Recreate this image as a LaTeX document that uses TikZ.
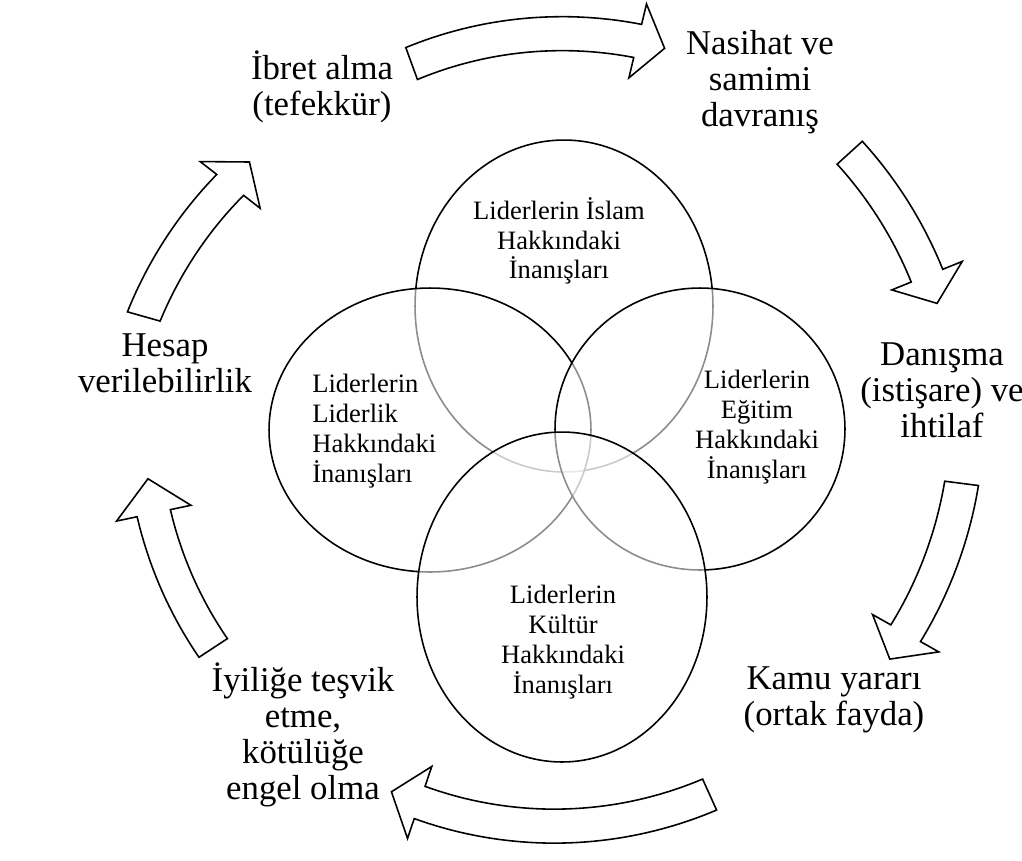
\documentclass[tikz,border=0pt]{standalone}
\usepackage{fontspec}
\setmainfont{Liberation Serif}
\usetikzlibrary{shapes.geometric}

% curved block arrow round (545,430): r1 r2 tail neck tip
\newcommand{\cycarrow}[5]{%
  \draw[cyc arrow] plot[domain=#3:#4,samples=40]
      ({545+(#1+(#2-#1)*(\x-(#3))/((#4)-(#3))+17)*cos(\x)},{430+(#1+(#2-#1)*(\x-(#3))/((#4)-(#3))+17)*sin(\x)})
    -- ({545+(#2+38)*cos(#4)},{430+(#2+38)*sin(#4)})
    -- ({545+(#2)*cos(#5)},{430+(#2)*sin(#5)})
    -- ({545+(#2-38)*cos(#4)},{430+(#2-38)*sin(#4)})
    -- plot[domain=#4:#3,samples=40]
      ({545+(#1+(#2-#1)*(\x-(#3))/((#4)-(#3))-17)*cos(\x)},{430+(#1+(#2-#1)*(\x-(#3))/((#4)-(#3))-17)*sin(\x)})
    -- cycle;}

\begin{document}
\begin{tikzpicture}[x=0.02cm,y=-0.02cm,
    venn/.style={ellipse,draw,line width=0.9pt,fill=white,fill opacity=0.55,inner sep=0,outer sep=0},
    inner/.style={font=\fontsize{15.1}{17}\selectfont,align=center,inner sep=0},
    outer/.style={font=\fontsize{19.8}{20.5}\selectfont,align=center,inner sep=0},
    cyc arrow/.style={draw,line width=0.9pt,fill=white,line join=miter}]
  \useasboundingbox (0,0) rectangle (1022,860);

  % the four beliefs
  \node[venn,minimum width=5.96cm,minimum height=6.64cm] (islam) at (564,306) {};
  \node[venn,minimum width=6.44cm,minimum height=5.68cm] (liderlik) at (430,430) {};
  \node[venn,minimum width=5.8cm,minimum height=5.64cm] (egitim) at (700,429) {};
  \node[venn,minimum width=5.8cm,minimum height=6.6cm] (kultur) at (562,597) {};

  \node[inner] (islamtxt) at (559,241) {Liderlerin İslam\\Hakkındaki\\İnanışları};
  \node[inner,align=left,anchor=west] (liderliktxt) at (312,431) {Liderlerin\\Liderlik\\Hakkındaki\\İnanışları};
  \node[inner] (egitimtxt) at (757,427) {Liderlerin\\Eğitim\\Hakkındaki\\İnanışları};
  \node[inner] (kulturtxt) at (563,642) {Liderlerin\\Kültür\\Hakkındaki\\İnanışları};

  % the cycle
  \node[outer] (ibret) at (322,87) {İbret alma\\(tefekkür)};
  \node[outer] (nasihat) at (760,82) {Nasihat ve\\samimi\\davranış};
  \node[outer] (danisma) at (942,390) {Danışma\\(istişare) ve\\ihtilaf};
  \node[outer] (kamu) at (834,700) {Kamu yararı\\(ortak fayda)};
  \node[outer] (iyilik) at (303,735) {İyiliğe teşvik\\etme,\\kötülüğe\\engel olma};
  \node[outer] (hesap) at (165,363) {Hesap\\verilebilirlik};

  \cycarrow{390}{400}{-110}{-76.6}{-72.6}
  \cycarrow{412}{412}{-42.3}{-22}{-17.9}
  \cycarrow{420}{414}{7.3}{29.4}{33.6}
  \cycarrow{400}{393}{65.7}{108.6}{113}
  \cycarrow{397}{400}{146.7}{168}{173}
  \cycarrow{417}{399}{195.8}{217.9}{222.2}
\end{tikzpicture}
\end{document}
